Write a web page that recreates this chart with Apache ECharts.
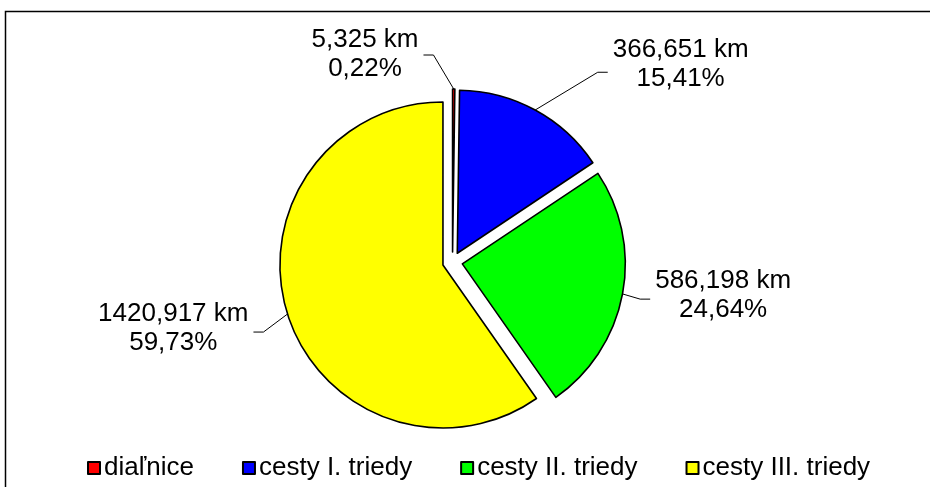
<!DOCTYPE html>
<html>
<head>
<meta charset="utf-8">
<script src="https://cdn.jsdelivr.net/npm/echarts@6/dist/echarts.min.js"></script>
<style>
  html, body { margin: 0; padding: 0; background: #fff; }
  #chart { width: 930px; height: 487px; }
</style>
</head>
<body>
<div id="chart"></div>
<script>
  // road network lengths (km)
  var categories = ['diaľnice', 'cesty I. triedy', 'cesty II. triedy', 'cesty III. triedy'];
  var lengths = [5.325, 366.651, 586.198, 1420.917];
  var colors = ['#ff0000', '#0000ff', '#00ff00', '#ffff00'];

  var font = 'Liberation Sans, Arial, sans-serif';

  // leader line lengths and small nudges so labels sit like the Excel original
  var lineLen = [34, 43, 20, 20];
  var lineLen2 = [30, 52, 8, 15];
  var labelTweak = [
    { flip: true, dy: 0, ty: -1 },
    { dy: 0, ty: -8 },
    { dy: 1.5, ty: -4 },
    { dy: 12, ty: -4 }
  ];

  var pieData = categories.map(function (name, i) {
    return {
      name: name,
      value: lengths[i],
      selected: true,
      itemStyle: { color: colors[i] },
      labelLine: { length: lineLen[i], length2: lineLen2[i] }
    };
  });

  var chart = echarts.init(document.getElementById('chart'));
  var option = {
    animation: false,
    graphic: [{
      type: 'rect',
      shape: { x: 5.5, y: 11.5, width: 1000, height: 1000 },
      style: { fill: 'none', stroke: '#000', lineWidth: 1.5 },
      silent: true
    }],
    legend: {
      top: 450,
      left: 82,
      itemWidth: 12,
      itemHeight: 12,
      itemGap: 48,
      icon: 'rect',
      selectedMode: false,
      textStyle: { fontFamily: font, fontSize: 26, color: '#000', padding: [0, 0, 0, -1] }
    },
    series: [{
      type: 'pie',
      center: [452.5, 262],
      radius: 163,
      startAngle: 90,
      avoidLabelOverlap: false,
      selectedMode: 'multiple',
      selectedOffset: 10,
      data: pieData,
      itemStyle: { borderColor: '#000', borderWidth: 1.6 },
      emphasis: { disabled: true },
      label: {
        show: true,
        color: '#000',
        fontFamily: font,
        fontSize: 26,
        lineHeight: 29,
        formatter: function (p) {
          return String(p.value).replace('.', ',') + ' km\n' + p.percent.toFixed(2).replace('.', ',') + '%';
        }
      },
      labelLine: {
        show: true,
        lineStyle: { color: '#000', width: 1 }
      },
      labelLayout: function (p) {
        var pts = p.labelLinePoints;
        var t = labelTweak[p.dataIndex];
        var r = p.labelRect;
        var p0 = pts[0];
        var libEnd = pts[2];
        var libDir = libEnd[0] > p0[0] ? 1 : -1;
        // where the library anchored the text (left or right edge of the rect)
        var anchorX = libDir > 0 ? r.x : r.x + r.width;
        var anchorY = r.y + r.height / 2;
        var end = libEnd.slice();
        if (t.flip) end[0] = 2 * p0[0] - end[0];
        end[1] += t.dy;
        var dir = end[0] > p0[0] ? 1 : -1;
        var bend = [end[0] - dir * 10, end[1]];
        var cx = end[0] + dir * (5 + r.width / 2);
        var cy = end[1] + t.ty;
        return {
          dx: cx - anchorX,
          dy: cy - anchorY,
          align: 'center',
          verticalAlign: 'middle',
          labelLinePoints: [p0, bend, end]
        };
      }
    }]
  };
  chart.setOption(option);
</script>
</body>
</html>
